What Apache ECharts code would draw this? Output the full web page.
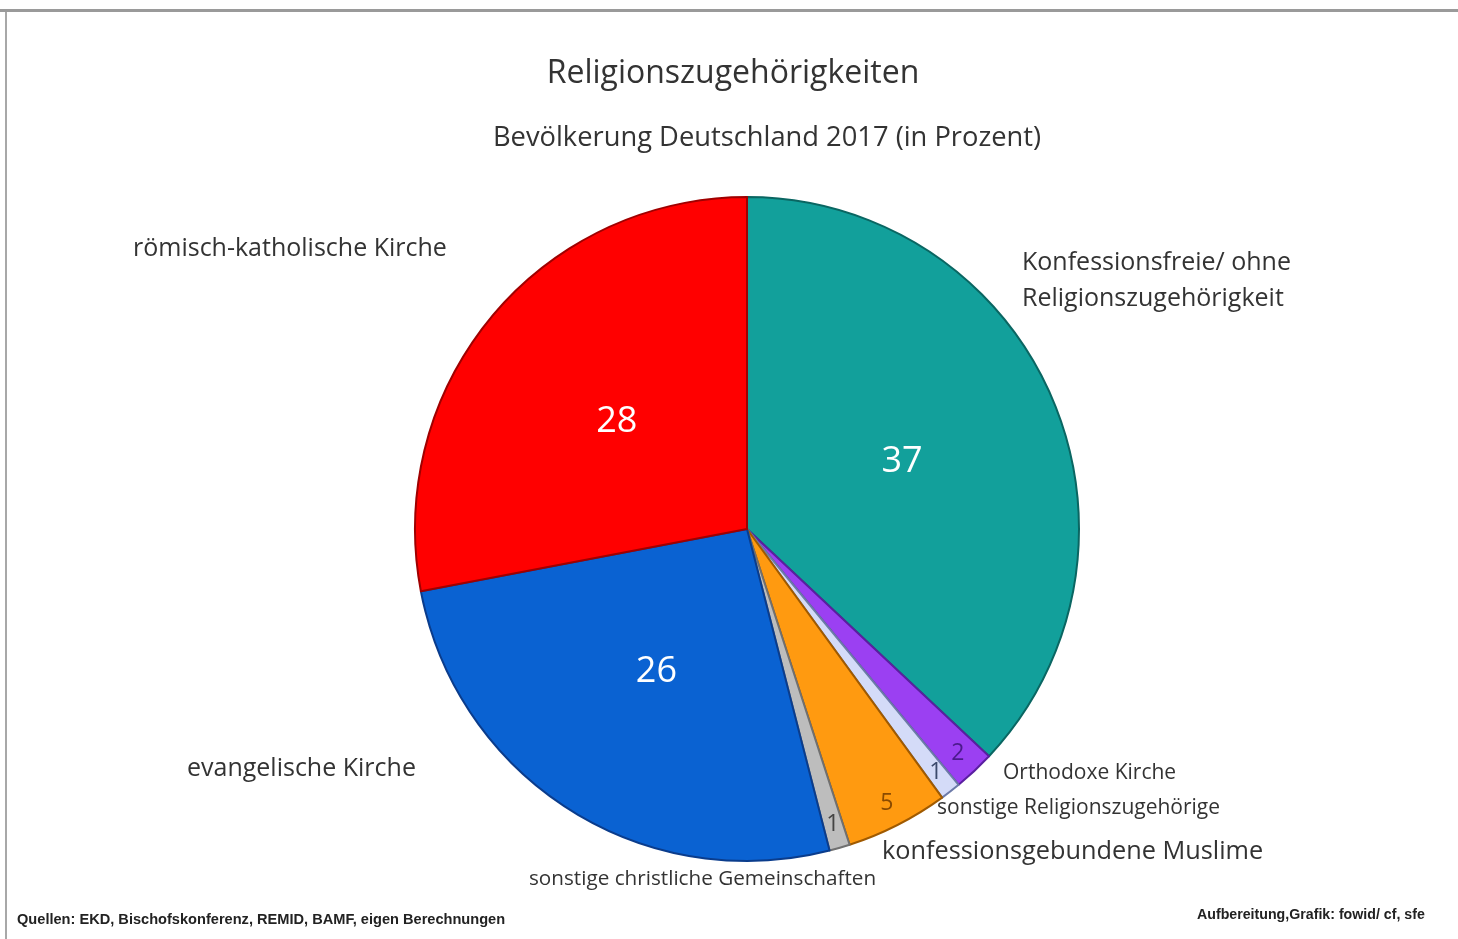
<!DOCTYPE html>
<html>
<head>
<meta charset="utf-8">
<script src="https://cdn.jsdelivr.net/npm/echarts@6/dist/echarts.min.js"></script>
<style>
html,body{margin:0;padding:0;background:#fff;}
#chart{width:1458px;height:939px;}
</style>
</head>
<body>
<div id="chart"></div>
<script>
// ---- data ----
const categories = [
  "Konfessionsfreie/ ohne\nReligionszugehörigkeit",
  "Orthodoxe Kirche",
  "sonstige Religionszugehörige",
  "konfessionsgebundene Muslime",
  "sonstige christliche Gemeinschaften",
  "evangelische Kirche",
  "römisch-katholische Kirche"
];
const values = [37, 2, 1, 5, 1, 26, 28];
const titleText = "Religionszugehörigkeiten";
const subtitleText = "Bevölkerung Deutschland 2017 (in Prozent)";
const sourceText = "Quellen: EKD, Bischofskonferenz, REMID, BAMF, eigen Berechnungen";
const creditText = "Aufbereitung,Grafik: fowid/ cf, sfe";

// ---- styles ----
const fillColors   = ["#12a09b", "#9b40f2", "#d4dbf8", "#ff9a10", "#bdbdbd", "#0a62d2", "#ff0000"];
const borderColors = ["#0a6662", "#5a1fa0", "#6c7aa8", "#a05a00", "#707070", "#0a3c8c", "#a00000"];
const valueColors  = ["#ffffff", "#4b1a8c", "#3c4a6c", "#8a4a00", "#444444", "#ffffff", "#ffffff"];
const smallSlice = [false, true, true, true, true, false, false];
const namePos = [[1022, 281, 25], [1003, 773, 21], [937, 808, 21], [882, 852, 25.3], [529, 879, 20.7], [187, 769, 25], [133, 249, 25]];

const center = [747, 529];
const R = 332;

const chart = echarts.init(document.getElementById('chart'), null, {renderer: 'canvas'});

function makeData(showLabel, labelColorFn, hidden) {
  return categories.map((c, i) => ({
    name: c,
    value: values[i],
    itemStyle: hidden ? {color: 'rgba(0,0,0,0)', borderWidth: 0}
                      : {color: fillColors[i], borderColor: borderColors[i], borderWidth: 2},
    label: {show: showLabel(i), color: labelColorFn(i)}
  }));
}

const option = {
  animation: false,
  backgroundColor: '#ffffff',
  title: [
    {text: titleText, left: 728, top: 53, textAlign: 'center',
     textStyle: {fontFamily: 'Open Sans', fontWeight: 'normal', fontSize: 32, color: '#333333'}},
    {text: subtitleText, left: 762, top: 120, textAlign: 'center',
     textStyle: {fontFamily: 'Open Sans', fontWeight: 'normal', fontSize: 27.3, color: '#333333'}}
  ],
  graphic: [
    {type: 'rect', shape: {x: 0, y: 9, width: 1458, height: 3}, style: {fill: '#9a9a9a'}, silent: true},
    {type: 'rect', shape: {x: 5, y: 12, width: 2, height: 927}, style: {fill: '#a8a8a8'}, silent: true},
    {type: 'text', left: 17, top: 912, style: {text: sourceText, font: 'bold 14.6px "Liberation Sans", Arial', fill: '#222'}},
    {type: 'text', left: 1197, top: 908, style: {text: creditText, font: 'bold 14.2px "Liberation Sans", Arial', fill: '#222'}}
  ],
  series: [
    {
      type: 'pie',
      center: center,
      radius: [0, R],
      startAngle: 90,
      clockwise: true,
      avoidLabelOverlap: false,
      silent: true,
      label: {position: 'inside', formatter: '{c}', fontFamily: 'Open Sans', fontSize: 36, padding: [8, 0, 0, 0]},
      labelLine: {show: false},
      data: makeData(i => !smallSlice[i], i => valueColors[i], false)
    },
    {
      type: 'pie',
      center: center,
      radius: [R - 54, R],
      startAngle: 90,
      clockwise: true,
      avoidLabelOverlap: false,
      silent: true,
      label: {position: 'inside', formatter: '{c}', fontFamily: 'Open Sans', fontSize: 23},
      labelLine: {show: false},
      data: makeData(i => smallSlice[i], i => valueColors[i], true)
    },
    {
      type: 'pie',
      center: center,
      radius: [0, R],
      startAngle: 90,
      clockwise: true,
      avoidLabelOverlap: false,
      silent: true,
      label: {show: true, position: 'outside', formatter: '{b}', fontFamily: 'Open Sans',
              color: '#333333', lineHeight: 36},
      labelLine: {show: false},
      labelLayout: function (p) {
        const q = namePos[p.dataIndex];
        return {x: q[0], y: q[1], align: 'left', verticalAlign: 'middle', fontSize: q[2]};
      },
      data: makeData(i => true, i => '#333333', true)
    }
  ]
};
chart.setOption(option);
</script>
</body>
</html>
